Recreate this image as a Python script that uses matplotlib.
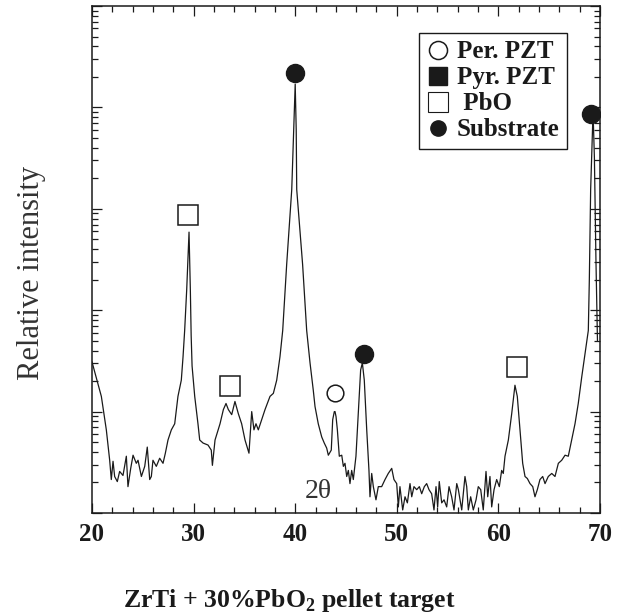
import numpy as np
import matplotlib
matplotlib.use("Agg")
import matplotlib.pyplot as plt
from matplotlib.lines import Line2D
from matplotlib.ticker import LogLocator, NullFormatter

# 2-theta (deg) and log10 of relative intensity
two_theta = [
    20.00, 20.92, 21.41, 21.74, 21.90, 22.07, 22.23, 22.49, 22.72, 23.05,
    23.38, 23.54, 23.81, 24.04, 24.36, 24.53, 24.86, 25.19, 25.44, 25.68,
    25.84, 26.00, 26.33, 26.66, 26.99, 27.22, 27.48, 27.81, 28.14, 28.46,
    28.79, 28.96, 29.12, 29.32, 29.55, 29.68, 29.76, 29.85, 30.11, 30.43,
    30.60, 30.93, 31.42, 31.74, 31.85, 32.11, 32.60, 32.93, 33.19, 33.42,
    33.75, 34.07, 34.40, 34.73, 35.06, 35.45, 35.72, 35.94, 36.14, 36.37,
    36.70, 37.03, 37.52, 37.85, 38.18, 38.50, 38.77, 39.16, 39.66, 39.85,
    40.00, 40.10, 40.15, 40.73, 41.13, 41.46, 41.78, 41.95, 42.27, 42.61,
    42.86, 43.10, 43.26, 43.55, 43.69, 43.85, 43.92, 44.02, 44.15, 44.34,
    44.58, 44.74, 44.90, 45.07, 45.23, 45.39, 45.56, 45.72, 45.98, 46.21,
    46.44, 46.61, 46.80, 47.04, 47.26, 47.36, 47.53, 47.69, 47.95, 48.18,
    48.51, 48.84, 49.16, 49.50, 49.72, 49.99, 50.15, 50.31, 50.58, 50.81,
    51.04, 51.30, 51.47, 51.69, 51.96, 52.22, 52.45, 52.71, 52.94, 53.17,
    53.43, 53.66, 53.86, 54.02, 54.18, 54.42, 54.65, 54.91, 55.14, 55.40,
    55.63, 55.90, 56.06, 56.39, 56.71, 56.88, 57.04, 57.27, 57.53, 57.80,
    58.02, 58.26, 58.51, 58.78, 58.95, 59.17, 59.34, 59.57, 59.83, 60.09,
    60.32, 60.48, 60.65, 60.98, 61.31, 61.63, 61.86, 62.13, 62.39, 62.62,
    62.85, 63.11, 63.38, 63.60, 63.83, 64.09, 64.36, 64.59, 64.91, 65.25,
    65.57, 65.90, 66.23, 66.56, 66.88, 67.21, 67.54, 67.86, 68.20, 68.52,
    68.85, 68.95, 69.08, 69.28, 69.33, 69.45, 69.60, 69.75,
]
log_intensity = [
    1.49, 1.15, 0.82, 0.52, 0.33, 0.51, 0.36, 0.31, 0.41, 0.37,
    0.56, 0.26, 0.44, 0.57, 0.49, 0.52, 0.36, 0.46, 0.65, 0.33,
    0.36, 0.52, 0.46, 0.54, 0.49, 0.59, 0.72, 0.82, 0.88, 1.15,
    1.31, 1.54, 1.80, 2.20, 2.77, 2.20, 1.75, 1.45, 1.15, 0.88,
    0.72, 0.69, 0.67, 0.62, 0.47, 0.72, 0.88, 1.02, 1.08, 1.02,
    0.97, 1.10, 0.98, 0.88, 0.72, 0.59, 1.00, 0.82, 0.88, 0.82,
    0.92, 1.02, 1.15, 1.18, 1.31, 1.54, 1.80, 2.45, 3.19, 3.78,
    4.23, 3.78, 3.19, 2.45, 1.80, 1.48, 1.21, 1.05, 0.88, 0.75,
    0.69, 0.64, 0.57, 0.62, 0.92, 1.00, 1.00, 0.95, 0.82, 0.56,
    0.57, 0.46, 0.49, 0.36, 0.42, 0.29, 0.42, 0.33, 0.56, 0.98,
    1.41, 1.48, 1.31, 0.82, 0.42, 0.16, 0.39, 0.26, 0.13, 0.26,
    0.26, 0.33, 0.39, 0.44, 0.33, 0.29, 0.06, 0.26, 0.03, 0.16,
    0.10, 0.29, 0.16, 0.26, 0.23, 0.26, 0.19, 0.26, 0.29, 0.23,
    0.19, 0.03, 0.26, 0.06, 0.31, 0.10, 0.13, 0.06, 0.26, 0.16,
    0.03, 0.29, 0.23, 0.03, 0.36, 0.26, 0.03, 0.16, 0.03, 0.13,
    0.26, 0.23, 0.03, 0.41, 0.16, 0.36, 0.06, 0.23, 0.33, 0.26,
    0.42, 0.39, 0.56, 0.72, 0.98, 1.26, 1.15, 0.82, 0.49, 0.36,
    0.34, 0.29, 0.26, 0.16, 0.23, 0.33, 0.36, 0.29, 0.36, 0.39,
    0.36, 0.49, 0.52, 0.57, 0.56, 0.72, 0.88, 1.08, 1.34, 1.57,
    1.80, 2.30, 3.19, 3.84, 3.91, 3.50, 2.50, 1.70,
]

# phase markers (2-theta, log10 intensity)
pbo_x = [29.48, 33.58, 61.80]
pbo_y = [2.94, 1.25, 1.44]
per_x = [43.92]
per_y = [1.18]
sub_x = [40.0, 46.8, 69.1]
sub_y = [4.34, 1.57, 3.93]

serif = "Liberation Serif"
ink = "#1a1a1a"

fig = plt.figure(figsize=(6.22, 6.16), dpi=100)
ax = fig.add_axes([92 / 622, 1 - 513 / 616, 508 / 622, 507 / 616])

ax.plot(two_theta, 10 ** np.array(log_intensity), color=ink, lw=0.9)

ax.plot(pbo_x, 10 ** np.array(pbo_y), ls="none", marker="s", ms=14,
        mfc="white", mec=ink, mew=1.1)
ax.plot(per_x, 10 ** np.array(per_y), ls="none", marker="o", ms=12,
        mfc="white", mec=ink, mew=1.1)
ax.plot(sub_x, 10 ** np.array(sub_y), ls="none", marker="o", ms=13,
        mfc=ink, mec=ink)

ax.set_yscale("log")
ax.set_xlim(20, 70)
ax.set_ylim(1, 1e5)

ax.set_xticks([20, 30, 40, 50, 60, 70])
ax.set_xticks(np.arange(20, 71, 2), minor=True)
ax.yaxis.set_major_locator(LogLocator(base=10))
ax.yaxis.set_minor_locator(LogLocator(base=10, subs=np.arange(2, 10)))
ax.yaxis.set_major_formatter(NullFormatter())
ax.yaxis.set_minor_formatter(NullFormatter())
ax.tick_params(which="both", direction="in", top=True, right=True,
               color=ink, width=0.9)
ax.tick_params(which="major", length=7)
ax.tick_params(which="minor", length=4)
ax.tick_params(axis="x", pad=7)
for lab in ax.get_xticklabels():
    lab.set_fontfamily(serif)
    lab.set_fontweight("bold")
    lab.set_fontsize(18)
    lab.set_color(ink)
for sp in ax.spines.values():
    sp.set_linewidth(1.1)
    sp.set_color(ink)

handles = [
    Line2D([], [], ls="none", marker="o", ms=13, mfc="white", mec=ink, mew=1.1),
    Line2D([], [], ls="none", marker="s", ms=13, mfc=ink, mec=ink),
    Line2D([], [], ls="none", marker="s", ms=14, mfc="white", mec=ink, mew=0.8),
    Line2D([], [], ls="none", marker="o", ms=11, mfc=ink, mec=ink),
]
labels = ["Per. PZT", "Pyr. PZT", " PbO", "Substrate"]
leg = ax.legend(handles, labels, loc="upper right",
                bbox_to_anchor=(0.935, 0.947),
                prop={"family": serif, "weight": "bold", "size": 18},
                handlelength=0.9, handletextpad=0.3, labelspacing=0.12,
                borderpad=0.3, borderaxespad=0, fancybox=False,
                framealpha=1, edgecolor=ink)
leg.get_frame().set_linewidth(1.0)
for t in leg.get_texts():
    t.set_color(ink)

fig.text(318 / 622, 1 - 491 / 616, "2θ", ha="center", va="center",
         family=serif, size=20, color="#333333")
fig.text(32 / 622, 1 - 273 / 616, "Relative intensity", rotation=90,
         ha="center", va="center", family=serif, size=22, color="#333333")
fig.text(289 / 622, 1 - 601 / 616,
         r"ZrTi + 30%PbO$_\mathregular{2}$ pellet target",
         ha="center", va="center", family=serif, weight="bold", size=18.5,
         color=ink)

fig.savefig("out.png", dpi=100)
